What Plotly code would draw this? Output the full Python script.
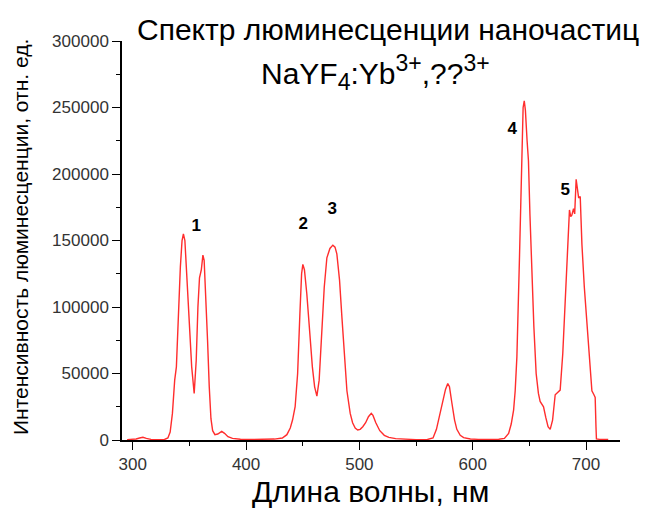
import plotly.graph_objects as go

wavelength = [295, 300, 303, 306, 309, 312, 316, 322, 328, 331, 333, 335, 337, 338.5, 340, 342, 343.5, 344.7, 346, 348, 350, 352, 354.2, 356, 357.5, 358.9, 360.5, 361.9, 363, 364.5, 366, 367.5, 369, 370.5, 372.5, 375, 378.5, 381, 384, 388, 395, 405, 415, 425, 432, 436, 439, 441, 443.3, 445.5, 447.5, 449, 450.1, 451.5, 453.6, 456, 458.5, 460.5, 462.5, 464.5, 466.9, 469, 471.3, 474, 476.6, 478.5, 480.1, 482.5, 484.6, 487, 489, 491.9, 494, 496.3, 498.5, 500.7, 503, 505.5, 508, 510.5, 512, 514.5, 518, 522, 526, 532, 540, 550, 560, 565, 568, 571.3, 574, 576, 578, 579.5, 581.6, 584, 586, 589, 592, 598, 605, 615, 623, 628, 631.7, 634, 636.1, 637.5, 639, 641.3, 643, 644.5, 645.5, 646.5, 648, 649.2, 650.5, 652, 654, 656, 658, 659.5, 661, 662.5, 664.5, 666.5, 668.4, 670.5, 672.8, 675, 677.2, 679.5, 681.6, 683.5, 685.4, 686.5, 687.5, 689, 690, 691.3, 692.5, 693.5, 694.9, 696.4, 698.5, 700.8, 703, 705.2, 707, 708.1, 708.8, 709.2, 712, 716, 719.6]
intensity = [300, 500, 800, 1500, 2000, 1200, 500, 300, 400, 1500, 6000, 20000, 45000, 55000, 90000, 130000, 150000, 155000, 150000, 120000, 85000, 55000, 35000, 60000, 100000, 122000, 128000, 139000, 135000, 110000, 75000, 40000, 16000, 7000, 4000, 4500, 6500, 5000, 2500, 1200, 600, 400, 500, 700, 1500, 4000, 9000, 15000, 25000, 50000, 95000, 125000, 132000, 128000, 110000, 80000, 55000, 40000, 33000, 45000, 82000, 115000, 137000, 144000, 146500, 145000, 140000, 120000, 92000, 60000, 37000, 20000, 13000, 9000, 7500, 8000, 10000, 13000, 17500, 20000, 18500, 13000, 7000, 3500, 2000, 1000, 500, 300, 400, 1500, 8000, 20000, 30000, 38000, 42500, 40000, 28000, 15000, 8000, 3500, 1800, 800, 500, 500, 600, 1200, 5000, 12000, 22500, 37000, 62500, 137500, 200000, 250000, 255000, 248000, 225000, 210000, 170000, 130000, 85000, 50000, 35000, 29000, 27000, 25000, 17000, 10000, 8000, 15000, 34000, 35500, 37500, 65000, 100000, 140000, 173000, 168000, 169000, 174000, 170000, 196000, 187000, 182000, 183000, 147000, 115000, 87000, 60000, 37000, 34000, 32000, 10000, 800, 500, 600, 500]

peak_labels = ["1", "2", "3", "4", "5"]
peak_label_x = [356, 450.4, 476, 635, 681.6]
peak_label_y = [160500, 161500, 173500, 233000, 187500]

x_ticks = [300, 400, 500, 600, 700]
y_ticks = [0, 50000, 100000, 150000, 200000, 250000, 300000]

title_line1 = "Спектр люминесценции наночастиц"
title_line2 = ("NaYF<sub><span style='font-size:23px'>4</span></sub>:Yb"
               "<sup><span style='font-size:23px'>3+</span></sup>,??"
               "<sup><span style='font-size:23px'>3+</span></sup>")
x_title = "Длина волны, нм"
y_title = "Интенсивность люминесценции, отн. ед."

FONT = "Arial, 'Liberation Sans', sans-serif"

fig = go.Figure()
fig.add_trace(go.Scatter(
    x=wavelength, y=intensity, mode="lines",
    line=dict(color="rgb(255,45,45)", width=1.4),
    hoverinfo="skip", showlegend=False,
))
fig.add_trace(go.Scatter(
    x=peak_label_x, y=peak_label_y, mode="text", text=[f"<b>{t}</b>" for t in peak_labels],
    textfont=dict(family=FONT, size=17, color="black"),
    textposition="middle center", showlegend=False, hoverinfo="skip",
))

L, R, T, B = 122, 26, 41, 69
W, H = 646, 509
pw, ph = W - L - R, H - T - B

def px(X):
    return (X - L) / pw

def py(Y):
    return (H - B - Y) / ph

annotations = [
    dict(text=title_line1, x=px(388), y=py(29), xref="paper", yref="paper",
         showarrow=False, xanchor="center", yanchor="middle",
         font=dict(family=FONT, size=30, color="black")),
    dict(text=title_line2, x=px(375), y=py(72), xref="paper", yref="paper",
         showarrow=False, xanchor="center", yanchor="middle",
         font=dict(family=FONT, size=30, color="black")),
    dict(text=x_title, x=px(370), y=py(491), xref="paper", yref="paper",
         showarrow=False, xanchor="center", yanchor="middle",
         font=dict(family=FONT, size=30, color="black")),
    dict(text=y_title, x=px(20), y=py(237), xref="paper", yref="paper",
         showarrow=False, xanchor="center", yanchor="middle", textangle=-90,
         font=dict(family=FONT, size=21, color="black")),
]

axis_common = dict(
    showline=True, linecolor="black", linewidth=1.5, showgrid=False, zeroline=False,
    ticks="outside", ticklen=8, tickwidth=1.3, tickcolor="black",
    tickfont=dict(family=FONT, size=17, color="#333333"),
)

fig.update_layout(
    width=W, height=H,
    margin=dict(l=L, r=R, t=T, b=B),
    paper_bgcolor="white", plot_bgcolor="white",
    annotations=annotations,
    xaxis=dict(range=[290.5, 730], tickvals=x_ticks, ticktext=[str(v) for v in x_ticks],
               minor=dict(ticks="outside", ticklen=4, tickwidth=1.3, tickcolor="black", dtick=50, tick0=300),
               **axis_common),
    yaxis=dict(range=[0, 300000], tickvals=y_ticks, ticktext=[str(v) for v in y_ticks],
               minor=dict(ticks="outside", ticklen=4, tickwidth=1.3, tickcolor="black", dtick=25000, tick0=0),
               **axis_common),
)

fig.write_html("out.html")
